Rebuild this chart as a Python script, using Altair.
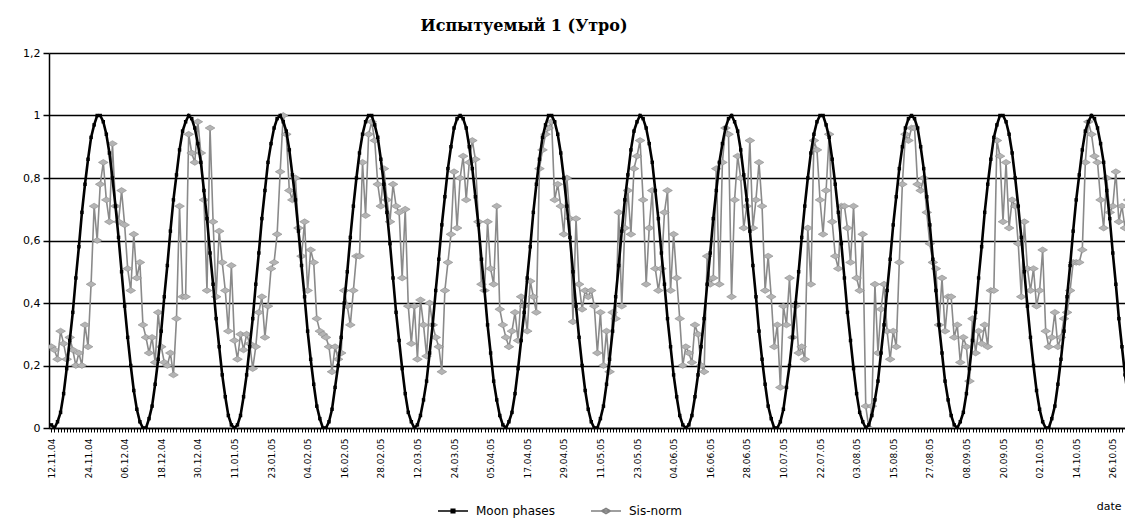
import json
import altair as alt
import pandas as pd

title_text = "Испытуемый 1 (Утро)"
series_names = ["Moon phases", "Sis-norm"]
x_title = "date"

tick_labels = [
    "12.11.04", "24.11.04", "06.12.04", "18.12.04", "30.12.04", "11.01.05",
    "23.01.05", "04.02.05", "16.02.05", "28.02.05", "12.03.05", "24.03.05",
    "05.04.05", "17.04.05", "29.04.05", "11.05.05", "23.05.05", "04.06.05",
    "16.06.05", "28.06.05", "10.07.05", "22.07.05", "03.08.05", "15.08.05",
    "27.08.05", "08.09.05", "20.09.05", "02.10.05", "14.10.05", "26.10.05",
]
y_ticks = [0, 0.2, 0.4, 0.6, 0.8, 1.0, 1.2]

moon_phases = [
    0.01,
    0.00, 0.02, 0.05, 0.11, 0.19, 0.28, 0.37, 0.48, 0.58, 0.69, 0.78, 0.86, 0.93, 0.97, 1.00,
    1.00, 0.98, 0.94, 0.88, 0.80, 0.71, 0.61, 0.50, 0.39, 0.29, 0.20, 0.12, 0.06, 0.02, 0.00,
    0.00, 0.03, 0.07, 0.14, 0.22, 0.31, 0.42, 0.52, 0.63, 0.73, 0.81, 0.89, 0.95, 0.98, 1.00,
    0.99, 0.96, 0.91, 0.85, 0.76, 0.67, 0.56, 0.46, 0.35, 0.26, 0.17, 0.10, 0.04, 0.01,
    0.00, 0.01, 0.04, 0.10, 0.17, 0.26, 0.35, 0.46, 0.56, 0.67, 0.76, 0.85, 0.91, 0.96, 0.99,
    1.00, 0.98, 0.95, 0.89, 0.81, 0.73, 0.63, 0.52, 0.42, 0.31, 0.22, 0.14, 0.07, 0.03, 0.00,
    0.00, 0.02, 0.06, 0.13, 0.20, 0.29, 0.40, 0.50, 0.61, 0.71, 0.80, 0.88, 0.94, 0.98, 1.00,
    1.00, 0.97, 0.93, 0.86, 0.78, 0.69, 0.59, 0.48, 0.37, 0.28, 0.19, 0.11, 0.05, 0.02, 0.00,
    0.01, 0.04, 0.09, 0.15, 0.24, 0.33, 0.44, 0.54, 0.65, 0.74, 0.83, 0.90, 0.96, 0.99, 1.00,
    0.99, 0.96, 0.90, 0.83, 0.74, 0.65, 0.54, 0.44, 0.33, 0.24, 0.15, 0.09, 0.04, 0.01,
    0.00, 0.02, 0.05, 0.11, 0.19, 0.28, 0.37, 0.48, 0.58, 0.69, 0.78, 0.86, 0.93, 0.97, 1.00,
    1.00, 0.98, 0.94, 0.88, 0.80, 0.71, 0.61, 0.50, 0.39, 0.29, 0.20, 0.12, 0.06, 0.02, 0.00,
    0.00, 0.03, 0.07, 0.14, 0.22, 0.31, 0.42, 0.52, 0.63, 0.73, 0.81, 0.89, 0.95, 0.98, 1.00,
    0.99, 0.96, 0.91, 0.85, 0.76, 0.67, 0.56, 0.46, 0.35, 0.26, 0.17, 0.10, 0.04, 0.01,
    0.00, 0.01, 0.04, 0.10, 0.17, 0.26, 0.35, 0.46, 0.56, 0.67, 0.76, 0.85, 0.91, 0.96, 0.99,
    1.00, 0.98, 0.95, 0.89, 0.81, 0.73, 0.63, 0.52, 0.42, 0.31, 0.22, 0.14, 0.07, 0.03, 0.00,
    0.00, 0.02, 0.06, 0.13, 0.20, 0.29, 0.40, 0.50, 0.61, 0.71, 0.80, 0.88, 0.94, 0.98, 1.00,
    1.00, 0.97, 0.93, 0.86, 0.78, 0.69, 0.59, 0.48, 0.37, 0.28, 0.19, 0.11, 0.05, 0.02, 0.00,
    0.01, 0.04, 0.09, 0.15, 0.24, 0.33, 0.44, 0.54, 0.65, 0.74, 0.83, 0.90, 0.96, 0.99, 1.00,
    0.99, 0.96, 0.90, 0.83, 0.74, 0.65, 0.54, 0.44, 0.33, 0.24, 0.15, 0.09, 0.04, 0.01,
    0.00, 0.02, 0.05, 0.11, 0.19, 0.28, 0.37, 0.48, 0.58, 0.69, 0.78, 0.86, 0.93, 0.97, 1.00,
    1.00, 0.98, 0.94, 0.88, 0.80, 0.71, 0.61, 0.50, 0.39, 0.29, 0.20, 0.12, 0.06, 0.02, 0.00,
    0.00, 0.03, 0.07, 0.14, 0.22, 0.31, 0.42, 0.52, 0.63, 0.73, 0.81, 0.89, 0.95, 0.98, 1.00,
    0.99, 0.96, 0.91, 0.85, 0.76, 0.67, 0.56, 0.46, 0.35, 0.26, 0.17, 0.10, 0.04, 0.01,
    0.00,
]

sis_norm = [
    0.26, 0.25, 0.22, 0.31, 0.27, 0.22, 0.29, 0.25, 0.20, 0.24,
    0.20, 0.33, 0.26, 0.46, 0.71, 0.60, 0.78, 0.85, 0.73, 0.66,
    0.91, 0.71, 0.66, 0.76, 0.65, 0.51, 0.44, 0.62, 0.48, 0.53,
    0.33, 0.29, 0.24, 0.29, 0.21, 0.37, 0.26, 0.21, 0.20, 0.24,
    0.17, 0.35, 0.71, 0.42, 0.42, 0.94, 0.88, 0.85, 0.98, 0.88,
    0.73, 0.44, 0.96, 0.66, 0.42, 0.63, 0.53, 0.44, 0.31,
    0.52, 0.28, 0.22, 0.30, 0.25, 0.30, 0.27, 0.19, 0.26, 0.37,
    0.42, 0.29, 0.39, 0.51, 0.53, 0.62, 0.82, 1.00, 0.94, 0.76,
    0.73, 0.80, 0.64, 0.55, 0.66, 0.44, 0.57, 0.53, 0.35, 0.31,
    0.30, 0.29, 0.26, 0.18, 0.26, 0.22, 0.24, 0.44, 0.39, 0.33,
    0.44, 0.55, 0.55, 0.85, 0.68, 0.94, 0.98, 0.92, 0.78, 0.71,
    0.83, 0.73, 0.66, 0.78, 0.71, 0.69, 0.48, 0.70, 0.39,
    0.27, 0.39, 0.22, 0.41, 0.33, 0.23, 0.40, 0.33, 0.29, 0.26,
    0.18, 0.44, 0.53, 0.62, 0.82, 0.64, 0.80, 0.87, 0.73, 0.85,
    0.92, 0.86, 0.66, 0.46, 0.44, 0.66, 0.51, 0.46, 0.71, 0.38,
    0.33, 0.29, 0.26, 0.31, 0.37, 0.28, 0.42, 0.39, 0.31, 0.47,
    0.42, 0.37, 0.83, 0.89, 0.94, 0.96, 0.98, 0.73, 0.78, 0.71,
    0.62, 0.80, 0.67, 0.34, 0.67, 0.46, 0.38, 0.44, 0.42,
    0.44, 0.39, 0.24, 0.37, 0.20, 0.31, 0.18, 0.37, 0.35, 0.69,
    0.39, 0.64, 0.76, 0.62, 0.83, 0.87, 0.92, 0.73, 0.46, 0.64,
    0.76, 0.51, 0.44, 0.51, 0.69, 0.76, 0.44, 0.62, 0.48, 0.35,
    0.20, 0.26, 0.24, 0.21, 0.33, 0.30, 0.20, 0.18, 0.55, 0.46,
    0.48, 0.83, 0.46, 0.85, 0.96, 0.94, 0.42, 0.73, 0.87, 0.80,
    0.64, 0.71, 0.92, 0.64, 0.73, 0.85, 0.71, 0.44,
    0.55, 0.42, 0.26, 0.33, 0.13, 0.39, 0.33, 0.48, 0.29, 0.39,
    0.24, 0.26, 0.22, 0.64, 0.46, 0.92, 0.89, 0.73, 0.62, 0.76,
    0.94, 0.66, 0.55, 0.51, 0.71, 0.71, 0.64, 0.53, 0.71, 0.48,
    0.44, 0.62, 0.07, 0.00, 0.07, 0.46, 0.24, 0.38, 0.46, 0.31,
    0.22, 0.31, 0.26, 0.53, 0.78, 0.94, 0.92, 0.96, 0.96, 0.78,
    0.76, 0.80, 0.69, 0.59, 0.53, 0.51, 0.33, 0.48, 0.31, 0.42,
    0.42, 0.29, 0.33, 0.21, 0.29, 0.26, 0.15, 0.35, 0.24, 0.31,
    0.27, 0.33, 0.26, 0.44, 0.44, 0.92, 0.87, 0.66, 0.85, 0.64,
    0.73, 0.71, 0.59, 0.42, 0.66, 0.51, 0.44, 0.51, 0.39, 0.44,
    0.57, 0.31, 0.26, 0.29, 0.37, 0.26, 0.29, 0.35, 0.37, 0.44,
    0.53, 0.53, 0.53, 0.57, 0.85, 0.98, 0.94, 0.87, 0.85, 0.73,
    0.64, 0.80, 0.69, 0.71, 0.82, 0.66, 0.71, 0.64, 0.73, 0.57,
    0.37, 0.33,
]

n = min(len(moon_phases), len(sis_norm))
days = list(range(n))
df = pd.DataFrame({
    "day": days + days,
    "value": moon_phases[:n] + sis_norm[:n],
    "series": [series_names[0]] * n + [series_names[1]] * n,
})

W, H = 1076, 375
X_DOMAIN = [-0.8, 352.0]
SANS = "DejaVu Sans"

labels_js = json.dumps(tick_labels)
label_expr = (
    "datum.value % 12 == 0 && datum.value / 12 < " + str(len(tick_labels))
    + " ? " + labels_js + "[datum.value / 12] : ''"
)

x_enc = alt.X(
    "day:Q",
    scale=alt.Scale(domain=X_DOMAIN, nice=False, zero=False),
    axis=alt.Axis(
        values=list(range(0, 353)),
        labelExpr=label_expr,
        labelAngle=270, labelAlign="right", labelBaseline="middle",
        labelFont=SANS, labelFontSize=9, labelColor="black",
        labelOverlap=False, labelFlush=False, labelPadding=6,
        tickSize=4, tickColor="black", tickWidth=1,
        domainColor="black", domainWidth=1.5, grid=False,
        title=x_title, titleFont=SANS, titleFontSize=11,
        titleFontWeight="normal", titleColor="black",
        titleAnchor="end", titleAlign="right", titleBaseline="middle",
        titleX=W - 4, titleY=78,
    ),
)
y_enc = alt.Y(
    "value:Q",
    scale=alt.Scale(domain=[0, 1.2], nice=False, zero=True),
    axis=alt.Axis(
        values=y_ticks,
        labelExpr="replace(format(datum.value, '.1~f'), '.', ',')",
        labelFont=SANS, labelFontSize=11, labelColor="black",
        labelPadding=3, tickSize=6, tickColor="black", tickWidth=1.5,
        domainColor="black", domainWidth=1.5,
        grid=True, gridColor="black", gridWidth=1.5,
        title="",
    ),
)

base = alt.Chart(df).encode(x=x_enc, y=y_enc)

sis = base.transform_filter(alt.datum.series == series_names[1])
moon = base.transform_filter(alt.datum.series == series_names[0])

diamond_path = "M-1,0L0,-0.6L1,0L0,0.6Z"

sis_line = sis.mark_line(color="#8a8a8a", strokeWidth=1.6, clip=True)
sis_pts = sis.mark_point(shape=diamond_path, filled=True, fill="#b4b4b4",
                         stroke="#8a8a8a", strokeWidth=0.6, size=95,
                         opacity=1, clip=True)
moon_line = moon.mark_line(color="black", strokeWidth=2.6, clip=True)
moon_pts = moon.mark_point(shape="square", filled=True, color="black",
                           size=12, opacity=1, clip=True)

legend_moon_path = "M-1,0H1M-0.12,-0.12H0.12V0.12H-0.12Z"
legend_sis_path = "M-1,0H1M-0.3,0L0,-0.18L0.3,0L0,0.18Z"

leg = alt.Legend(
    title="", orient="none", direction="horizontal",
    legendX=388, legendY=442,
    labelFont=SANS, labelFontSize=12, labelColor="black",
    symbolSize=900, symbolStrokeWidth=1.5, symbolOpacity=1,
    columnPadding=33, labelOffset=7,
)

legend_layer = base.transform_filter(alt.datum.day == 0).mark_point(
    filled=True, opacity=0, clip=True
).encode(
    fill=alt.Fill("series:N", scale=alt.Scale(domain=series_names, range=["black", "#b4b4b4"]), legend=leg),
    stroke=alt.Stroke("series:N", scale=alt.Scale(domain=series_names, range=["black", "#808080"]), legend=leg),
    shape=alt.Shape("series:N", scale=alt.Scale(domain=series_names, range=[legend_moon_path, legend_sis_path]), legend=leg),
)

chart = alt.layer(sis_line, sis_pts, moon_line, moon_pts, legend_layer).properties(
    width=W, height=H,
    title=alt.TitleParams(
        text=title_text, font="DejaVu Serif", fontSize=16, fontWeight="bold",
        color="black", anchor="middle", frame="group", dx=-63, dy=25, offset=25,
        baseline="alphabetic",
    ),
    autosize=alt.AutoSizeParams(type="none"),
    padding={"left": 41, "top": 45, "right": 0, "bottom": 92},
    background="white",
).configure_view(strokeWidth=0)

chart.save("out.html", embed_options={"renderer": "svg", "actions": False})
